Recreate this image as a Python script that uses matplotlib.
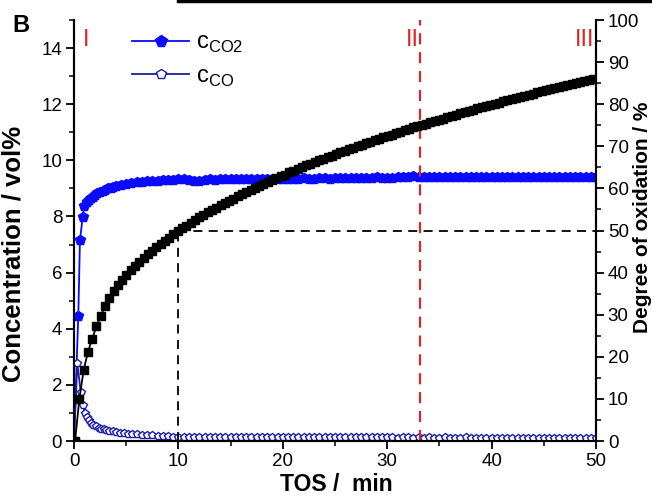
import numpy as np
import matplotlib
matplotlib.use("Agg")
import matplotlib.pyplot as plt
from matplotlib.lines import Line2D
from matplotlib.ticker import MultipleLocator
from matplotlib import font_manager

plt.rcParams['font.family'] = ['Liberation Sans', 'DejaVu Sans']
plt.rcParams['mathtext.fontset'] = 'custom'
plt.rcParams['mathtext.rm'] = 'Liberation Sans'

_names = {f.name for f in font_manager.fontManager.ttflist}
tick_font = 'Liberation Sans Narrow' if 'Liberation Sans Narrow' in _names else 'Liberation Sans'
tick_size = 15.5 if tick_font == 'Liberation Sans Narrow' else 13.5

# ---------------- data ----------------
# CO2 concentration (vol%)
t_co2 = [0, 0.41, 0.57, 0.83, 0.99, 1.2, 1.4, 1.6, 1.8, 2.0, 2.25, 2.5, 2.75, 3.0,
         3.25, 3.5, 3.75, 4.0, 4.5, 5.0, 5.5, 6.0, 6.5, 7.0, 7.5, 8.0, 8.5, 9.0, 9.5, 10.0] + \
        [10.5 + 0.5 * i for i in range(80)]
c_co2 = [0, 4.47, 7.15, 7.97, 8.37, 8.50, 8.58, 8.65, 8.71, 8.76, 8.82, 8.87, 8.92, 8.96,
         9.00, 9.03, 9.06, 9.09, 9.13, 9.17, 9.20, 9.23, 9.24, 9.26, 9.27, 9.28, 9.30, 9.31, 9.31, 9.32,
         9.32, 9.30, 9.28, 9.28, 9.30, 9.32, 9.31, 9.33, 9.33, 9.32, 9.33, 9.34, 9.33, 9.34, 9.33, 9.33, 9.34, 9.33, 9.35, 9.34,
         9.33, 9.35, 9.34, 9.36, 9.35, 9.34, 9.36, 9.37, 9.35, 9.36, 9.37, 9.36, 9.38, 9.37, 9.36, 9.38, 9.37, 9.39, 9.38, 9.37,
         9.38, 9.39, 9.40, 9.42, 9.43, 9.41, 9.40, 9.39, 9.40, 9.41, 9.40, 9.39, 9.41, 9.40, 9.39, 9.40, 9.41, 9.40, 9.39, 9.40,
         9.41, 9.40, 9.39, 9.41, 9.40, 9.42, 9.41, 9.40, 9.39, 9.41, 9.40, 9.42, 9.41, 9.40, 9.41, 9.42, 9.40, 9.41, 9.42, 9.41]

# CO concentration (vol%)
t_co = [0, 0.32, 0.64, 0.83, 1.05, 1.25, 1.45, 1.65, 1.85, 2.1, 2.35, 2.6, 2.85, 3.1, 3.4,
        3.7, 4.0, 4.4, 4.8, 5.2, 5.6, 6.0, 6.5, 7.0, 7.5, 8.0, 8.5, 9.0, 9.5, 10.0] + \
       [10.5 + 0.5 * i for i in range(80)]
c_co = [0, 2.77, 1.76, 1.29, 0.99, 0.85, 0.74, 0.65, 0.57, 0.52, 0.48, 0.44, 0.41, 0.39, 0.36,
        0.34, 0.32, 0.30, 0.28, 0.26, 0.25, 0.24, 0.22, 0.21, 0.20, 0.19, 0.18, 0.17, 0.16, 0.16,
        0.16, 0.15, 0.15, 0.15, 0.15, 0.14, 0.15, 0.14, 0.14, 0.14, 0.14, 0.14, 0.13, 0.14, 0.14, 0.13, 0.14, 0.13, 0.13, 0.13,
        0.13, 0.14, 0.13, 0.13, 0.14, 0.13, 0.13, 0.13, 0.14, 0.13, 0.13, 0.13, 0.13, 0.14, 0.13, 0.13, 0.13, 0.13, 0.13, 0.13,
        0.13, 0.12, 0.13, 0.13, 0.12, 0.13, 0.12, 0.13, 0.12, 0.12, 0.13, 0.12, 0.12, 0.12, 0.13, 0.12, 0.12, 0.12, 0.12, 0.12,
        0.12, 0.12, 0.12, 0.12, 0.12, 0.12, 0.12, 0.12, 0.12, 0.12, 0.12, 0.12, 0.12, 0.12, 0.12, 0.12, 0.12, 0.12, 0.12, 0.12]

# Degree of oxidation (%), sampled every 0.41 min
t_ox = [round(0.1 + 0.41 * k, 2) for k in range(122)]
d_ox = [0, 9.9, 16.8, 21.1, 24.3, 27.2, 29.7, 32.0, 34.0, 35.6, 37.0, 38.2, 39.5, 40.5,
        41.5, 42.5, 43.4, 44.3, 45.2, 46.0, 46.8, 47.6, 48.3, 49.1, 49.8, 50.5, 51.1, 51.8,
        52.4, 53.1, 53.7, 54.3, 54.8, 55.4, 56.0, 56.5, 57.1, 57.6, 58.1, 58.6, 59.1, 59.6,
        60.1, 60.6, 61.1, 61.5, 62.0, 62.5, 62.9, 63.3, 63.8, 64.2, 64.6, 65.0, 65.5, 65.9,
        66.3, 66.7, 67.1, 67.4, 67.8, 68.2, 68.6, 69.0, 69.3, 69.7, 70.1, 70.4, 70.8, 71.1,
        71.5, 71.8, 72.2, 72.5, 72.8, 73.2, 73.5, 73.8, 74.1, 74.5, 74.8, 75.1, 75.4, 75.7,
        76.0, 76.3, 76.6, 76.9, 77.2, 77.5, 77.8, 78.1, 78.4, 78.7, 79.0, 79.3, 79.5, 79.8,
        80.1, 80.4, 80.7, 80.9, 81.2, 81.5, 81.7, 82.0, 82.3, 82.5, 82.8, 83.1, 83.3, 83.6,
        83.8, 84.1, 84.3, 84.6, 84.8, 85.1, 85.3, 85.6, 85.8, 86.0]

t_half = 10.0       # time at 50 % oxidation
d_half = 50.0
t_stage2 = 33.1     # boundary II
stage_labels = ["I", "II", "III"]
stage_x = [1.15, 32.4, 48.9]

# ---------------- figure ----------------
fig = plt.figure(figsize=(6.52, 4.96), dpi=100)
ax = fig.add_axes([74 / 652, 55 / 496, 522 / 652, 421 / 496])
ax2 = ax.twinx()

blue = '#0a0aff'
navy = '#1c1ca8'
red = '#d8262a'

ax.plot(t_co2, c_co2, color=blue, lw=1.3, marker='p', ms=7, mfc=blue, mec=blue,
        label=r'c$_{\mathregular{CO2}}$', zorder=3)
ax.plot(t_co, c_co, color=navy, lw=1.3, marker='p', ms=6, mfc='white', mec=navy, mew=1.0,
        label=r'c$_{\mathregular{CO}}$', zorder=3)

ax2.plot(t_ox, d_ox, color='black', lw=1.3, marker='s', ms=6.3, mfc='black', mec='black', zorder=4)
ax2.plot([t_half, t_half], [0, d_half], color='black', lw=1.3, ls=(0, (5, 3.5)), zorder=2)
ax2.plot([t_half, 50], [d_half, d_half], color='black', lw=1.3, ls=(0, (5, 3.5)), zorder=2)
ax2.plot([t_stage2, t_stage2], [0, 100], color=red, lw=1.6, ls=(0, (5, 3.5)), zorder=2)

for lab, xs in zip(stage_labels, stage_x):
    ax2.text(xs, 95.3, lab, color=red, fontsize=17, ha='center', va='center')

ax.set_xlim(0, 50)
ax.set_ylim(0, 15)
ax2.set_ylim(0, 100)

ax.xaxis.set_major_locator(MultipleLocator(10))
ax.xaxis.set_minor_locator(MultipleLocator(5))
ax.yaxis.set_major_locator(MultipleLocator(2))
ax.yaxis.set_minor_locator(MultipleLocator(1))
ax2.yaxis.set_major_locator(MultipleLocator(10))
ax2.yaxis.set_minor_locator(MultipleLocator(5))

for a in (ax, ax2):
    a.tick_params(which='major', direction='out', length=6, width=1.3, labelsize=tick_size, pad=2.5)
    a.tick_params(which='minor', direction='out', length=3.5, width=1.1)
    for s in a.spines.values():
        s.set_linewidth(1.5)
    a.spines['top'].set_visible(False)
    for lbl in a.get_xticklabels() + a.get_yticklabels():
        lbl.set_family([tick_font, 'DejaVu Sans'])
ax.tick_params(axis='x', which='both', top=False)

ax.set_xlabel('TOS /  min', fontsize=16.5, fontweight='bold')
ax.xaxis.set_label_coords(0.502, -0.075)
ax.set_ylabel('Concentration / vol%', fontsize=18.5, fontweight='bold')
ax.yaxis.set_label_coords(-0.093, 0.444)
ax2.set_ylabel('Degree of oxidation / %', fontsize=15, fontweight='bold')
ax2.yaxis.set_label_coords(1.07, 0.532)

leg = ax.legend(loc='upper left', bbox_to_anchor=(0.112, 0.972), frameon=False,
                fontsize=17, handlelength=2.4, handletextpad=0.3, labelspacing=0.45,
                borderpad=0, borderaxespad=0, markerscale=1.2)

fig.text(12 / 652, 1 - 26 / 496, 'B', fontsize=17, fontweight='bold', va='center', ha='left')
fig.add_artist(Line2D([178 / 652, 1.0], [0.998, 0.998], color='black', lw=2.5,
                      transform=fig.transFigure))

fig.savefig('out.png', dpi=100)
